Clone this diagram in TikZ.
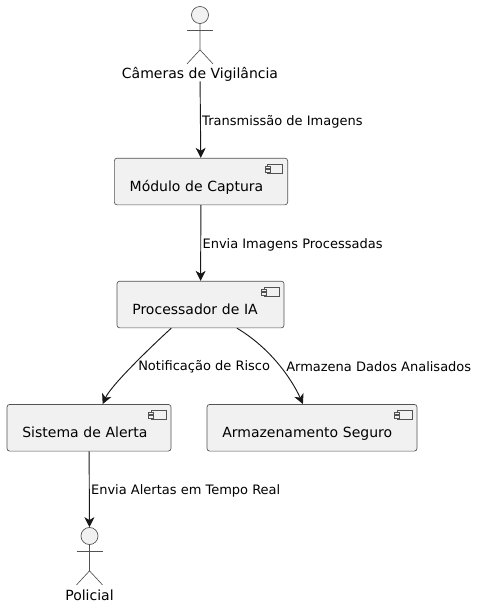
\documentclass[tikz,border=0pt]{standalone}
\usepackage{fontspec}
\setmainfont{DejaVu Sans}
\usetikzlibrary{arrows.meta}
\definecolor{box fill}{HTML}{F1F1F1}
\definecolor{box edge}{HTML}{181818}
\colorlet{thin edge}{box edge!75}
\tikzset{
  comp/.style={draw=thin edge, fill=box fill, line width=.5pt, rounded corners=2pt,
    inner ysep=0pt, inner xsep=11.5pt, text width=#1, align=left,
    text height=25pt, text depth=10pt, font=\fontsize{10.5}{12}\selectfont},
  icon/.style={draw=thin edge, fill=box fill, line width=.4pt},
  head/.style={circle, draw=thin edge, fill=box fill, line width=.5pt, minimum size=12.8pt, inner sep=0pt},
  stick/.style={draw=thin edge, line width=.5pt},
  actorname/.style={inner sep=0pt, font=\fontsize{10.5}{12}\selectfont},
  edgelabel/.style={inner sep=0pt, anchor=west, font=\fontsize{9.75}{12}\selectfont},
  conn/.style={draw=box edge, line width=.7pt, -{Stealth[length=7.5pt,width=7.5pt,inset=2.2pt]}}
}
\begin{document}
\begin{tikzpicture}[x=.75pt, y=-.75pt]
  \useasboundingbox (0,0) rectangle (477,607);

  % components
  \foreach \pos/\name/\wid/\txt in {
    {(201,181.5)/captura/107pt/Módulo de Captura},
    {(200.5,304.5)/proc/102.25pt/Processador de IA},
    {(89,427.75)/alerta/100pt/Sistema de Alerta},
    {(312,427.75)/dados/134.5pt/Armazenamento Seguro}} {
    \node[comp=\wid] (\name) at \pos {\txt};
    \draw[icon] (\name.north east) ++(-20.5,6) rectangle ++(15,9.5);
    \foreach \dy in {8,11.5} {
      \draw[icon] (\name.north east) ++(-23,\dy) rectangle ++(5,2.5);
    }
  }

  % actors
  \foreach \pos/\name/\txt/\gap in {
    {(200,15)/cam/Câmeras de Vigilância/59},
    {(89.5,536)/policial/Policial/59}} {
    \node[head] (\name) at \pos {};
    \draw[stick] (\name.south) -- ++(0,26) ++(-13,14) -- ++(13,-14) -- ++(13,14);
    \draw[stick] (\name.south) ++(-13,6.5) -- ++(26,0);
    \node[actorname] (\name-label) at ([yshift=-\gap*.75pt]\name.center) {\txt};
  }

  \path[conn] (cam-label) -- (captura)
    node[edgelabel, midway, xshift=1pt, yshift=-1.5pt] (l1) {Transmissão de Imagens};
  \path[conn] (captura) -- (proc)
    node[edgelabel, midway, xshift=1pt, yshift=-1.5pt] (l2) {Envia Imagens Processadas};
  \path[conn] (alerta) -- (policial)
    node[edgelabel, midway, xshift=1pt, yshift=-1.5pt] (l3) {Envia Alertas em Tempo Real};

  \path[conn] (proc.-141) .. controls +(-24,22) and +(8,-18) .. (alerta.60);
  \path[conn] (proc.-33.5) .. controls +(40,24) and +(-7,-16) .. (dados.111);
  \node[edgelabel] (l4) at (138,367) {Notificação de Risco};
  \node[edgelabel] (l5) at (286,367) {Armazena Dados Analisados};
\end{tikzpicture}
\end{document}
